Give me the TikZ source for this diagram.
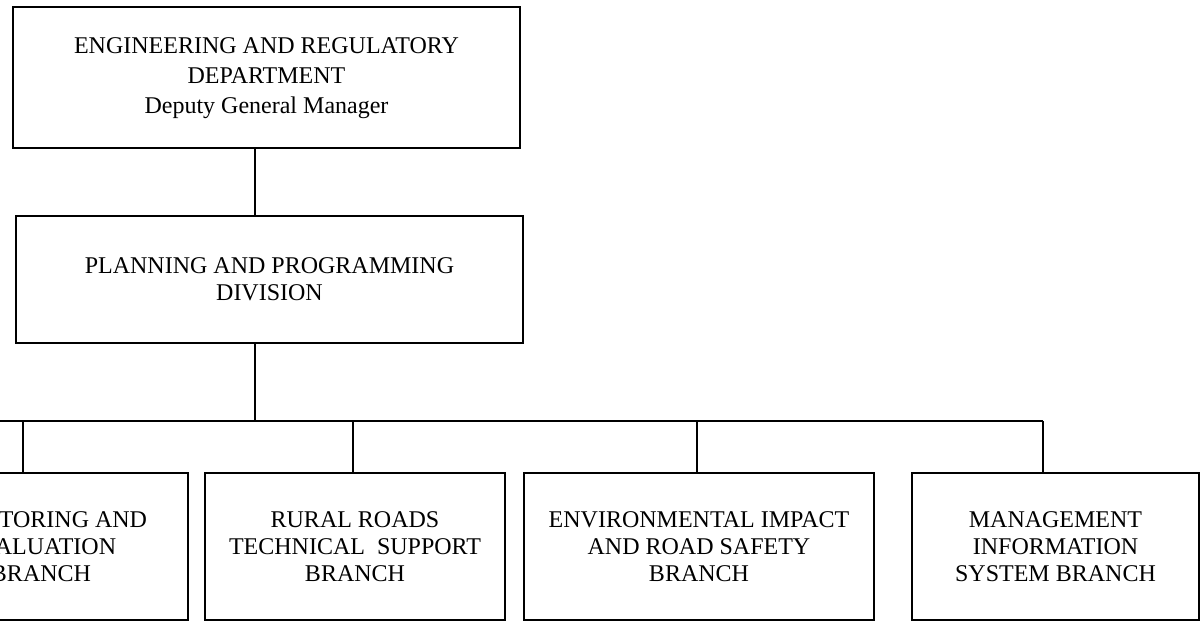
\documentclass[tikz,border=0pt]{standalone}
\usepackage{fontspec}
\setmainfont{Liberation Serif}
\begin{document}
\begin{tikzpicture}[x=0.5pt, y=-0.5pt,
    unit/.style={draw, line width=1pt, align=center, inner sep=0pt,
      font=\fontsize{12}{13.5}\selectfont},
    link/.style={line width=1.3pt}]
    \useasboundingbox (0,0) rectangle (1200,625);
    \clip (0,0) rectangle (1200,625);

    % Department and division
    \node[unit, minimum width=253.5pt, minimum height=70.5pt,
      font=\fontsize{12}{15}\selectfont] (dept) at (266.5,78)
      {ENGINEERING AND REGULATORY\\DEPARTMENT\\Deputy General Manager};
    \node[unit, minimum width=253.5pt, minimum height=63.5pt] (plan) at (269.5,279.5)
      {PLANNING AND PROGRAMMING\\DIVISION};

    % Branches
    \node[unit, minimum width=147pt, minimum height=73.5pt] (mon) at (41,546.5)
      {MONITORING AND\\EVALUATION\\BRANCH};
    \node[unit, minimum width=150pt, minimum height=73.5pt] (rural) at (355,546.5)
      {RURAL ROADS\\TECHNICAL\ \ SUPPORT\\BRANCH};
    \node[unit, minimum width=175pt, minimum height=73.5pt] (env) at (699,546.5)
      {ENVIRONMENTAL IMPACT\\AND ROAD SAFETY\\BRANCH};
    \node[unit, minimum width=143.5pt, minimum height=73.5pt] (mis) at (1055.5,546.5)
      {MANAGEMENT\\INFORMATION\\SYSTEM BRANCH};

    % Bus and drops
    \coordinate (spine) at (255,421);
    \coordinate (busL) at (0,421);
    \coordinate (busR) at (1043,421);
    \draw[link] (spine |- dept.south) -- (spine |- plan.north);
    \draw[link] (spine |- plan.south) -- (spine);
    \draw[link] (busL) -- (busR);
    \foreach \x/\b in {23/mon, 353/rural, 697/env, 1043/mis} {
      \draw[link] (\x,421) -- (\x,421 |- \b.north);
    }
\end{tikzpicture}
\end{document}
